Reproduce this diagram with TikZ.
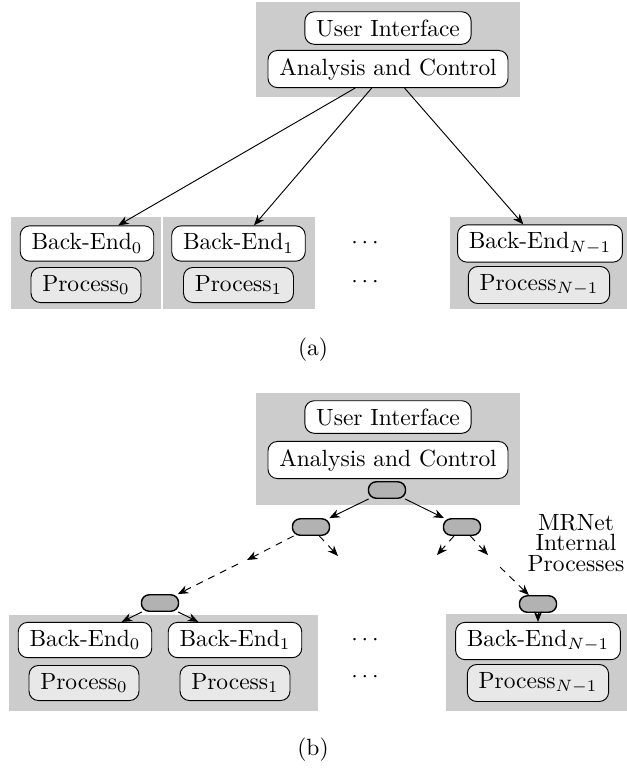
\documentclass[tikz,border=0pt]{standalone}
\usetikzlibrary{arrows.meta}
\definecolor{panelgray}{gray}{0.8}
\definecolor{procgray}{gray}{0.91}
\definecolor{relaygray}{gray}{0.7}
\tikzset{
  panel/.style={fill=panelgray, draw=none},
  tool/.style={draw, fill=white, rounded corners=4pt, inner xsep=4.8pt, inner ysep=3.3pt},
  proc/.style={tool, fill=procgray},
  relay/.style={draw, fill=relaygray, rounded corners=3.3pt, minimum width=15.8pt,
    minimum height=7pt, inner sep=0pt, line width=0.6pt},
  link/.style={-{Stealth[length=4.5pt,width=3.6pt]}},
  stub/.style={link, dash pattern=on 3pt off 2.6pt},
}
\begin{document}
\begin{tikzpicture}[x=0.426pt, y=-0.426pt]
\useasboundingbox (0,0) rectangle (627,769);

% ---------- (a) direct connection ----------
\fill[panel] (256,2) rectangle (520,97);
\fill[panel] (11,217) rectangle (161,309);
\fill[panel] (163,217) rectangle (315,309);
\fill[panel] (450,217) rectangle (627,309);

\node[tool] (uiA) at (388,28) {User Interface};
\node[tool] (acA) at (388,69) {Analysis and Control};

\node[tool] (be0A) at (87,243.5) {Back-End$_0$};
\node[proc] (p0A) at (86,285) {Process$_0$};
\node[tool] (be1A) at (238.5,243.5) {Back-End$_1$};
\node[proc] (p1A) at (238.5,285) {Process$_1$};
\node[tool] (beNA) at (540,243.5) {Back-End$_{N-1}$};
\node[proc] (pNA) at (539,285) {Process$_{N-1}$};

\node (dotsBeA) at (365,243) {$\cdots$};
\node (dotsPA) at (365,282) {$\cdots$};

\draw[link] (acA) -- (be0A);
\draw[link] (acA) -- (be1A);
\draw[link] (acA) -- (beNA);

\node (capA) at (313,350) {(a)};

% ---------- (b) through an MRNet tree ----------
\fill[panel] (256,393) rectangle (520,505);
\fill[panel] (9,615) rectangle (318,711);
\fill[panel] (446,614) rectangle (627,711);

\node[tool] (uiB) at (388,417) {User Interface};
\node[tool] (acB) at (388,460) {Analysis and Control};

\node[relay] (r0) at (387,490) {};
\node[relay] (r1) at (311,527) {};
\node[relay] (r2) at (462,527) {};
\node[relay] (r3) at (160,603) {};
\node[relay] (r4) at (538,604) {};

\node[tool] (be0B) at (85,640) {Back-End$_0$};
\node[proc] (p0B) at (84,683) {Process$_0$};
\node[tool] (be1B) at (235,640) {Back-End$_1$};
\node[proc] (p1B) at (235,683) {Process$_1$};
\node[tool] (beNB) at (538,641) {Back-End$_{N-1}$};
\node[proc] (pNB) at (538,683) {Process$_{N-1}$};

\node (dotsBeB) at (365,640) {$\cdots$};
\node (dotsPB) at (365,677) {$\cdots$};

\node[align=center, font=\fontsize{10pt}{8.6pt}\selectfont] (mrnet) at (576,543)
  {MRNet\\Internal\\Processes};

% tree edges
\draw[link] (r0) -- (r1);
\draw[link] (r0) -- (r2);
\draw[link] (r3) -- (be0B);
\draw[link] (r3) -- (be1B);
\draw[link] (r4) -- (beNB);

% open branches of the tree
\coordinate (s1l) at (247,560);
\coordinate (s1r) at (338,556);
\coordinate (s2l) at (437,555);
\coordinate (s2r) at (488,555);
\coordinate (in3) at (238,564);
\coordinate (in4) at (500,567);
\draw[stub] (r1) -- (s1l);
\draw[stub] (r1) -- (s1r);
\draw[stub] (r2) -- (s2l);
\draw[stub] (r2) -- (s2r);
\draw[stub] (in3) -- (r3);
\draw[stub] (in4) -- (r4);

\node (capB) at (313,750) {(b)};
\end{tikzpicture}
\end{document}
